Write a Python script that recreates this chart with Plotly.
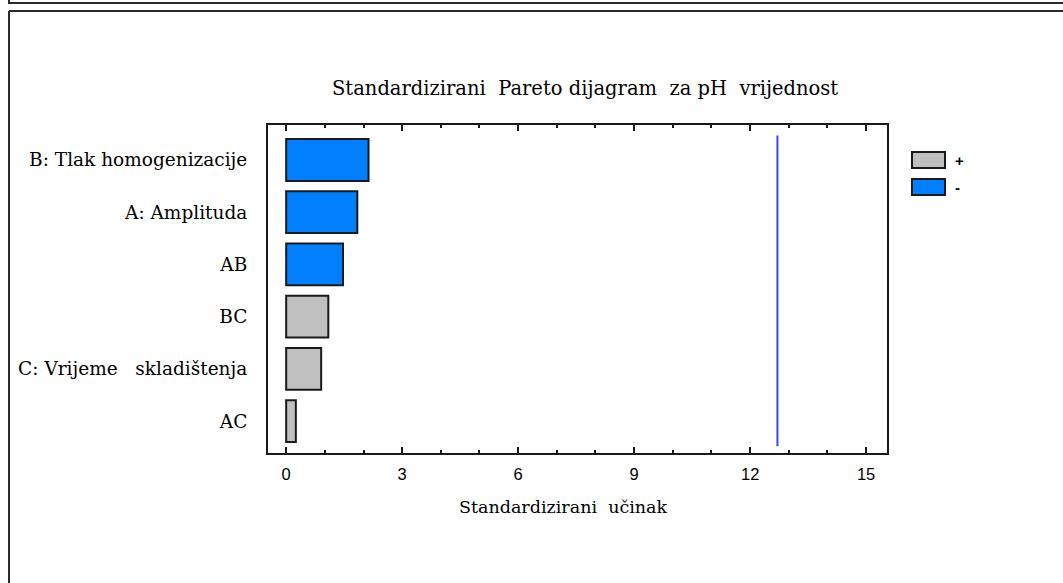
import plotly.graph_objects as go

# Data (top to bottom as in the chart)
factors = ["B: Tlak homogenizacije", "A: Amplituda", "AB", "BC",
           "C: Vrijeme\u00a0\u00a0 skladištenja", "AC"]
effects = [2.13, 1.84, 1.47, 1.09, 0.905, 0.25]
signs = ["-", "-", "-", "+", "+", "+"]
critical_value = 12.706
x_ticks = [0, 3, 6, 9, 12, 15]

colors = {"+": "#c0c0c0", "-": "#0080ff"}
FONT = "DejaVu Serif"
FS = 18.5

W, H = 1063, 583
L, R, T, B = 268, 887, 125, 453  # plot area in pixels

fig = go.Figure()
for s in ["+", "-"]:
    ys = [f for f, g in zip(factors, signs) if g == s]
    xs = [e for e, g in zip(effects, signs) if g == s]
    fig.add_trace(go.Bar(
        x=xs, y=ys, orientation="h", name=s, width=0.8,
        marker=dict(color=colors[s], line=dict(color="#1a1a1a", width=2)),
        showlegend=False, hoverinfo="skip",
    ))

fig.add_shape(type="line", xref="x", yref="y", x0=critical_value, x1=critical_value,
              y0=-0.48, y1=5.47, line=dict(color="#4040ff", width=2))

def px(x):
    return (x - L) / (R - L)

def py(y):
    return (B - y) / (B - T)

# manual legend
for i, s in enumerate(["+", "-"]):
    y0 = 152 + i * 27
    fig.add_shape(type="rect", xref="paper", yref="paper",
                  x0=px(912), x1=px(945), y0=py(y0 + 16), y1=py(y0),
                  fillcolor=colors[s], line=dict(color="#1a1a1a", width=2))
    fig.add_annotation(xref="paper", yref="paper", x=px(953), y=py(y0 + 8),
                       text="<b>" + s + "</b>", showarrow=False, xanchor="left", yanchor="middle",
                       font=dict(family="Liberation Sans", size=15, color="black"))

# outer frame
line_style = dict(color="#2a2a2a", width=2)
fig.add_shape(type="line", xref="paper", yref="paper", x0=px(8), x1=px(1063),
              y0=py(3), y1=py(3), line=line_style)
fig.add_shape(type="line", xref="paper", yref="paper", x0=px(9), x1=px(9),
              y0=py(0), y1=py(3), line=line_style)
fig.add_shape(type="line", xref="paper", yref="paper", x0=px(9), x1=px(1063),
              y0=py(11), y1=py(11), line=line_style)
fig.add_shape(type="line", xref="paper", yref="paper", x0=px(9), x1=px(9),
              y0=py(11), y1=py(583), line=line_style)

# title
fig.add_annotation(xref="paper", yref="paper", x=px(585), y=py(88),
                   text="Standardizirani\u00a0 Pareto dijagram\u00a0 za pH\u00a0 vrijednost",
                   showarrow=False, xanchor="center", yanchor="middle",
                   font=dict(family=FONT, size=19.5, color="black"))

# x-axis title
fig.add_annotation(xref="paper", yref="paper", x=px(563), y=py(507),
                   text="Standardizirani\u00a0 učinak",
                   showarrow=False, xanchor="center", yanchor="middle",
                   font=dict(family=FONT, size=17.5, color="black"))

fig.update_layout(
    width=W, height=H,
    margin=dict(l=L, r=W - R, t=T, b=H - B, pad=0),
    paper_bgcolor="white", plot_bgcolor="white",
    barmode="overlay",
    font=dict(family=FONT, size=FS, color="black"),
    xaxis=dict(
        range=[-0.47, 15.54], tickvals=x_ticks, ticks="inside", ticklen=6,
        tickwidth=2, tickcolor="#1a1a1a",
        minor=dict(dtick=1, tick0=0, ticks="inside", ticklen=3, tickwidth=2, tickcolor="#1a1a1a"),
        showline=True, linecolor="#1a1a1a", linewidth=2, mirror="ticks",
        showgrid=False, zeroline=False,
        ticklabelstandoff=5,
        tickfont=dict(family="Liberation Sans", size=16.5),
    ),
    yaxis=dict(
        type="category", categoryorder="array", categoryarray=factors[::-1],
        range=[-0.61, 5.67], showline=True, linecolor="#1a1a1a", linewidth=2,
        mirror=True, ticks="", showgrid=False, zeroline=False,
        ticklabelstandoff=15,
        tickfont=dict(family=FONT, size=FS),
    ),
)

fig.write_html("out.html", config={"displayModeBar": False},
               post_script="document.body.style.margin='0px';")
